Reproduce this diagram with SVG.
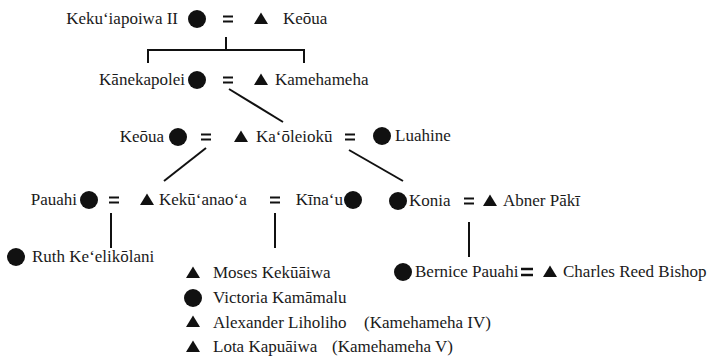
<svg xmlns="http://www.w3.org/2000/svg" width="711" height="358" viewBox="0 0 711 358">
<style>
text{font-family:"Liberation Serif","DejaVu Serif",serif;font-size:17px;fill:#1a1a1a}
.e{text-anchor:end}
.f{fill:#111}
.eq{stroke:#111;stroke-width:2}
.ln{stroke:#111;stroke-width:2;fill:none}
</style>
<defs>
<circle id="c" r="9" class="f"/>
<polygon id="t" points="-7,5 7,5 0,-6.5" class="f"/>
<g id="q"><line x1="-5" y1="-2.5" x2="5" y2="-2.5" class="eq"/><line x1="-5" y1="2.5" x2="5" y2="2.5" class="eq"/></g>
</defs>
<rect width="711" height="358" fill="#fff"/>
<g id="connectors">
<polyline class="ln" points="226,37 226,50"/>
<polyline class="ln" points="148,63 148,50 304,50 304,63"/>
<line class="ln" x1="229" y1="89" x2="283" y2="122"/>
<line class="ln" x1="206" y1="148" x2="164" y2="181"/>
<line class="ln" x1="349" y1="150" x2="403" y2="181"/>
<line class="ln" x1="111" y1="213" x2="111" y2="248"/>
<line class="ln" x1="275" y1="213" x2="275" y2="248"/>
<line class="ln" x1="469" y1="222" x2="469" y2="257"/>
</g>
<g id="m1"><use href="#q" x="228" y="19"/></g>
<g id="m2"><use href="#q" x="228" y="80"/></g>
<g id="m3"><use href="#q" x="206" y="137"/></g>
<g id="m4"><use href="#q" x="350" y="137"/></g>
<g id="m5"><use href="#q" x="114" y="200"/></g>
<g id="m6"><use href="#q" x="275" y="200"/></g>
<g id="m7"><use href="#q" x="469" y="201"/></g>
<g id="m8"><line x1="521" y1="269" x2="533" y2="269" stroke="#111" stroke-width="2.5"/><line x1="521" y1="275" x2="533" y2="275" stroke="#111" stroke-width="2.5"/></g>
<g id="kekuiapoiwa"><text class="e" x="178" y="24">Keku‘iapoiwa II</text><use href="#c" x="197" y="19"/></g>
<g id="keoua1"><use href="#t" x="261" y="19"/><text x="283" y="24">Keōua</text></g>
<g id="kanekapolei"><text class="e" x="185" y="85">Kānekapolei</text><use href="#c" x="197" y="80"/></g>
<g id="kamehameha"><use href="#t" x="261" y="80"/><text x="275" y="85">Kamehameha</text></g>
<g id="keoua2"><text class="e" x="164" y="142">Keōua</text><use href="#c" x="178" y="137"/></g>
<g id="kaoleioku"><use href="#t" x="241" y="137"/><text x="256" y="142">Ka‘ōleiokū</text></g>
<g id="luahine"><use href="#c" x="382" y="136"/><text x="395" y="141">Luahine</text></g>
<g id="pauahi"><text class="e" x="77" y="205">Pauahi</text><use href="#c" x="89" y="200"/></g>
<g id="kekuanaoa"><use href="#t" x="147" y="200"/><text x="159" y="205">Kekū‘anao‘a</text></g>
<g id="kinau"><text class="e" x="343" y="205">Kīna‘u</text><use href="#c" x="353" y="200"/></g>
<g id="konia"><use href="#c" x="398" y="201"/><text x="409" y="206">Konia</text></g>
<g id="abner"><use href="#t" x="490" y="201"/><text x="503" y="206">Abner Pākī</text></g>
<g id="ruth"><use href="#c" x="16" y="257"/><text x="32" y="262">Ruth Ke‘elikōlani</text></g>
<g id="moses"><use href="#t" x="193" y="273"/><text x="213" y="278">Moses Kekūāiwa</text></g>
<g id="victoria"><use href="#c" x="193" y="298"/><text x="213" y="303">Victoria Kamāmalu</text></g>
<g id="alexander"><use href="#t" x="193" y="322"/><text x="213" y="328">Alexander Liholiho</text><text x="364" y="328">(Kamehameha IV)</text></g>
<g id="lota"><use href="#t" x="193" y="347"/><text x="213" y="352">Lota Kapuāiwa</text><text x="332" y="352">(Kamehameha V)</text></g>
<g id="bernice"><use href="#c" x="403" y="272"/><text x="415" y="277">Bernice Pauahi</text></g>
<g id="charles"><use href="#t" x="550" y="272"/><text x="563" y="277">Charles Reed Bishop</text></g>
</svg>
